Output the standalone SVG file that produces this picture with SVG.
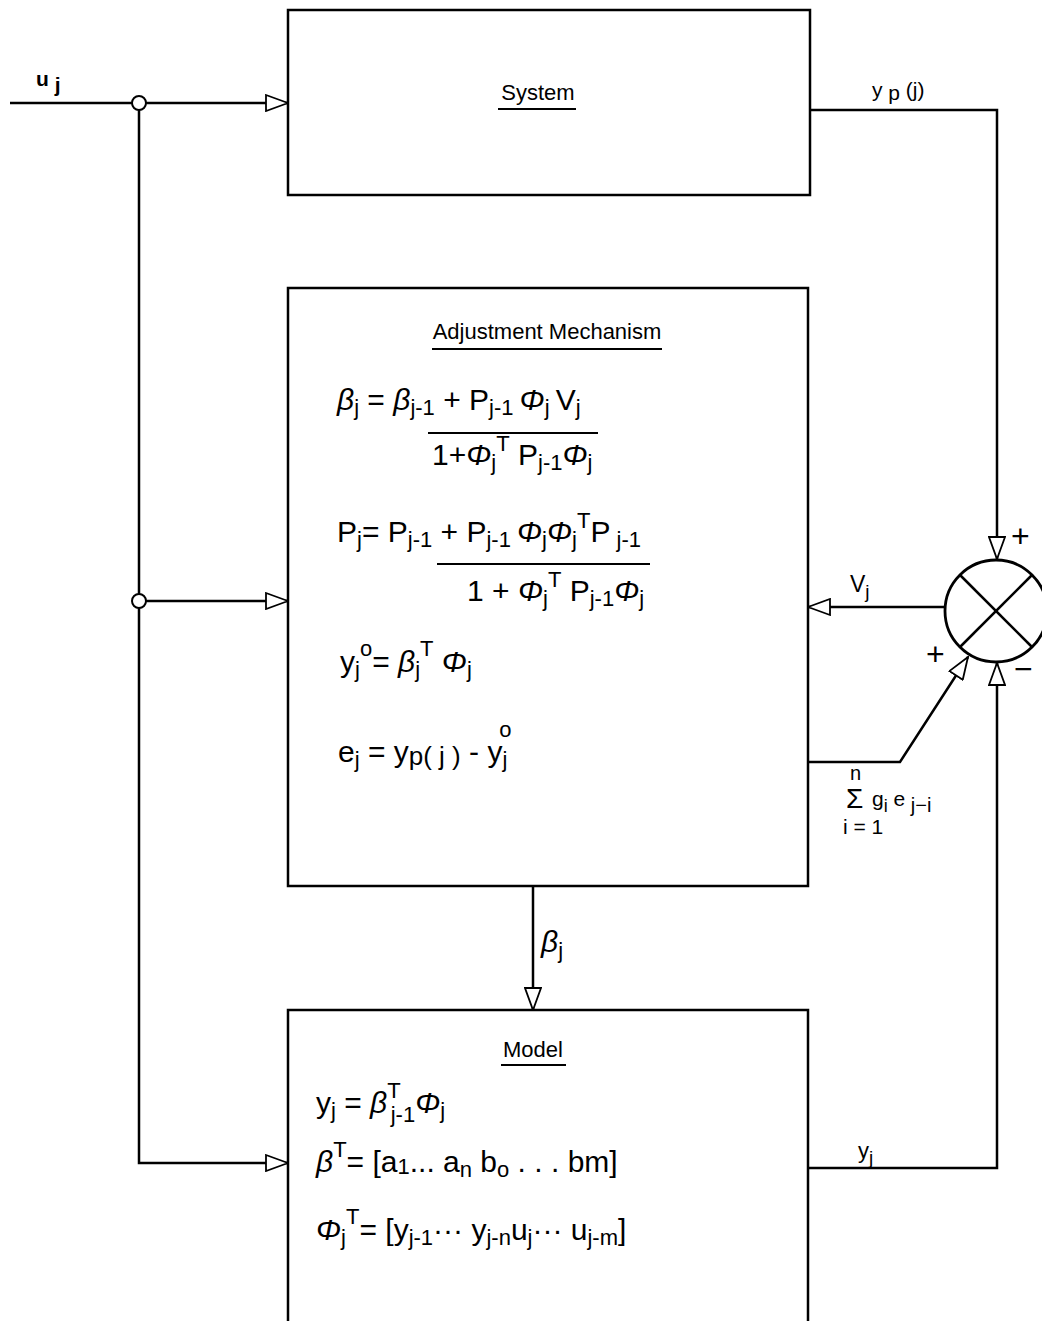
<svg xmlns="http://www.w3.org/2000/svg" width="1042" height="1321" viewBox="0 0 1042 1321">
<defs>
<style>
.box{fill:none;stroke:#000;stroke-width:2.5}
.ln{fill:none;stroke:#000;stroke-width:2.5}
.t{font-family:"Liberation Sans",Arial,sans-serif;font-size:30px;fill:#000}
.s{font-size:22px}
.g{font-style:italic}
.lb{font-family:"Liberation Sans",Arial,sans-serif;font-size:20px;fill:#000}
.ti{font-family:"Liberation Sans",Arial,sans-serif;font-size:22px;fill:#000}
.ul{stroke:#000;stroke-width:2}
</style>
<marker id="ah" viewBox="0 0 24 18" refX="23" refY="9" markerWidth="24" markerHeight="18" markerUnits="userSpaceOnUse" orient="auto">
<path d="M1,1 L23,9 L1,17 Z" fill="#fff" stroke="#000" stroke-width="1.8"/>
</marker>
</defs>
<rect width="1042" height="1321" fill="#fff"/>

<g id="system">
<rect class="box" x="288" y="10" width="522" height="185"/>
<text class="ti" x="538" y="100" text-anchor="middle">System</text>
<line class="ul" x1="498" y1="109" x2="576" y2="109"/>
</g>

<g id="adjustment">
<rect class="box" x="288" y="288" width="520" height="598"/>
<text class="ti" x="547" y="339" text-anchor="middle">Adjustment Mechanism</text>
<line class="ul" x1="432" y1="349" x2="662" y2="349"/>
<text class="t" x="337" y="410"><tspan class="g">β</tspan><tspan class="s" dy="5">j</tspan><tspan dy="-5"> = </tspan><tspan class="g">β</tspan><tspan class="s" dy="5">j-1</tspan><tspan dy="-5"> + P</tspan><tspan class="s" dy="5">j-1 </tspan><tspan class="g" dy="-5">Φ</tspan><tspan class="s" dy="5">j </tspan><tspan dy="-5">V</tspan><tspan class="s" dy="5">j</tspan></text>
<line class="ul" x1="428" y1="433" x2="598" y2="433"/>
<text class="t" x="432" y="465">1+<tspan class="g">Φ</tspan><tspan class="s" dy="5">j</tspan><tspan class="s" dy="-19">T</tspan><tspan dy="14"> P</tspan><tspan class="s" dy="5">j-1</tspan><tspan class="g" dy="-5">Φ</tspan><tspan class="s" dy="5">j</tspan></text>

<text class="t" x="337" y="542">P<tspan class="s" dy="5">j</tspan><tspan dy="-5">= P</tspan><tspan class="s" dy="5">j-1</tspan><tspan dy="-5"> + P</tspan><tspan class="s" dy="5">j-1 </tspan><tspan class="g" dy="-5">Φ</tspan><tspan class="s" dy="5">j</tspan><tspan class="g" dy="-5">Φ</tspan><tspan class="s" dy="5">j</tspan><tspan class="s" dy="-19">T</tspan><tspan dy="14">P</tspan><tspan class="s" dy="5"> j-1</tspan></text>
<line class="ul" x1="437" y1="564" x2="650" y2="564"/>
<text class="t" x="467" y="601">1 + <tspan class="g">Φ</tspan><tspan class="s" dy="5">j</tspan><tspan class="s" dy="-19">T</tspan><tspan dy="14"> P</tspan><tspan class="s" dy="5">j-1</tspan><tspan class="g" dy="-5">Φ</tspan><tspan class="s" dy="5">j</tspan></text>

<text class="t" x="340" y="672">y<tspan class="s" dy="5">j</tspan><tspan class="s" dy="-21">o</tspan><tspan dy="16">= </tspan><tspan class="g">β</tspan><tspan class="s" dy="5">j</tspan><tspan class="s" dy="-21">T</tspan><tspan class="g" dy="16"> Φ</tspan><tspan class="s" dy="5">j</tspan></text>

<text class="t" x="338" y="762">e<tspan class="s" dy="5">j</tspan><tspan dy="-5"> = y</tspan><tspan dy="3" style="font-size:26px">p( j )</tspan><tspan dy="-3"> - y</tspan><tspan class="s" dy="5">j</tspan><tspan class="s" dx="-8" dy="-30">o</tspan></text>
</g>

<g id="model">
<rect class="box" x="288" y="1010" width="520" height="320"/>
<text class="ti" x="533" y="1057" text-anchor="middle">Model</text>
<line class="ul" x1="501" y1="1065" x2="566" y2="1065"/>
<text class="t" x="316" y="1113">y<tspan class="s" dy="5">j</tspan><tspan dy="-5"> = </tspan><tspan class="g">β</tspan><tspan class="s" dy="-15">T</tspan><tspan class="s" dx="-10" dy="24">j-1</tspan><tspan class="g" dy="-9">Φ</tspan><tspan class="s" dy="5">j</tspan></text>
<text class="t" x="316" y="1172"><tspan class="g">β</tspan><tspan class="s" dy="-15">T</tspan><tspan dy="15">= [a</tspan><tspan class="s" dy="2">1</tspan><tspan dy="-2">... a</tspan><tspan class="s" dy="5">n</tspan><tspan dy="-5"> b</tspan><tspan class="s" dy="5">o</tspan><tspan dy="-5"> . . . bm]</tspan></text>
<text class="t" x="316" y="1240"><tspan class="g">Φ</tspan><tspan class="s" dy="5">j</tspan><tspan class="s" dy="-21">T</tspan><tspan dy="16">= [y</tspan><tspan class="s" dy="5">j-1</tspan><tspan dy="-5">··· y</tspan><tspan class="s" dy="5">j-n</tspan><tspan dy="-5">u</tspan><tspan class="s" dy="5">j</tspan><tspan dy="-5">··· u</tspan><tspan class="s" dy="5">j-m</tspan><tspan dy="-5">]</tspan></text>
</g>

<g id="summer">
<circle cx="996" cy="611" r="51" fill="#fff" stroke="#000" stroke-width="2.8"/>
<line class="ln" x1="960" y1="575" x2="1032" y2="647"/>
<line class="ln" x1="1032" y1="575" x2="960" y2="647"/>
</g>

<g id="connectors">
<line class="ln" x1="10" y1="103" x2="132" y2="103"/>
<line class="ln" x1="146" y1="103" x2="288" y2="103" marker-end="url(#ah)"/>
<circle cx="139" cy="103" r="7" fill="#fff" stroke="#000" stroke-width="2"/>
<line class="ln" x1="139" y1="110" x2="139" y2="594"/>
<circle cx="139" cy="601" r="7" fill="#fff" stroke="#000" stroke-width="2"/>
<line class="ln" x1="146" y1="601" x2="288" y2="601" marker-end="url(#ah)"/>
<polyline class="ln" points="139,608 139,1163 288,1163" marker-end="url(#ah)"/>

<polyline class="ln" points="810,110 997,110 997,559" marker-end="url(#ah)"/>
<line class="ln" x1="945" y1="607" x2="808" y2="607" marker-end="url(#ah)"/>
<polyline class="ln" points="808,762 900,762 968,657" marker-end="url(#ah)"/>
<polyline class="ln" points="808,1168 997,1168 997,663" marker-end="url(#ah)"/>
<line class="ln" x1="533" y1="886" x2="533" y2="1010" marker-end="url(#ah)"/>
</g>

<g id="labels">
<text class="lb" x="36" y="86" style="font-weight:bold;font-size:21px">u <tspan dy="6">j</tspan></text>
<text class="lb" x="872" y="97" style="font-size:21px">y<tspan dy="3"> p</tspan><tspan dy="-3"> (j)</tspan></text>
<text class="lb" x="850" y="592" style="font-size:23px">V<tspan dy="6" style="font-size:19px">j</tspan></text>
<text class="lb" x="858" y="1158" style="font-size:22px">y<tspan dy="6" style="font-size:19px">j</tspan></text>
<text class="t" x="541" y="952"><tspan class="g">β</tspan><tspan class="s" dy="6">j</tspan></text>
<text class="lb" x="1011" y="547" style="font-size:32px">+</text>
<text class="lb" x="926" y="665" style="font-size:32px">+</text>
<text class="lb" x="1014" y="680" style="font-size:32px">−</text>
<text class="lb" x="850" y="780" style="font-size:20px">n</text>
<text class="lb" x="846" y="808" style="font-size:28px">Σ</text>
<text class="lb" x="872" y="806" style="font-size:21px">g<tspan dy="6" style="font-size:18px">i</tspan><tspan dy="-6"> e</tspan><tspan dy="6" style="font-size:20px"> j−i</tspan></text>
<text class="lb" x="843" y="834" style="font-size:21px">i = 1</text>
</g>
</svg>
